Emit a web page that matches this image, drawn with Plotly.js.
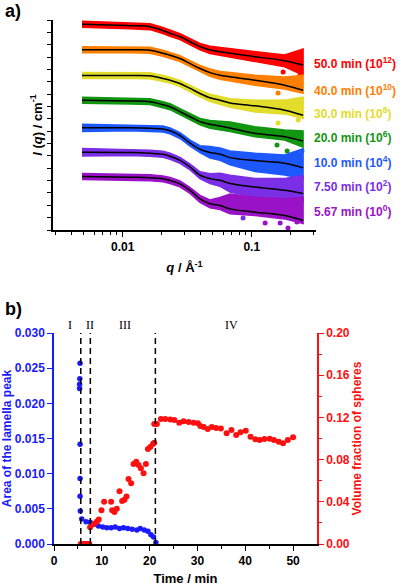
<!DOCTYPE html>
<html>
<head>
<meta charset="utf-8">
<script src="https://cdn.plot.ly/plotly-3.0.1.min.js"></script>
<style>
html, body { margin: 0; padding: 0; background: #fff; }
#chart { width: 400px; height: 586px; }
</style>
</head>
<body>
<div id="chart"></div>
<script>
// ---------- (a) SAXS profiles I(q), stacked by 10^2 per time point ----------
const q = [0.00484, 0.0114, 0.0163, 0.0205, 0.0233, 0.0278, 0.0333, 0.0397, 0.0475, 0.0568, 0.0679, 0.106, 0.18, 0.25];
const timeLabels = ['50.0', '40.0', '30.0', '20.0', '10.0', '7.50', '5.67'];
const offsetExp = [12, 10, 8, 6, 4, 2, 0];
const colors = ['#ff0000', '#ff8000', '#e2dc2a', '#129612', '#1d58ff', '#7a2ee6', '#9a12c6'];

// log10 of the fitted intensity (before stacking offset)
const fitLog50 = [0.65, 0.54, 0.46, 0.15, -0.08, -0.35, -0.76, -1.16, -1.43, -1.57, -1.70, -1.97, -2.30, -2.65];
const fitLog40 = [0.59, 0.59, 0.55, 0.31, 0.15, -0.12, -0.53, -0.93, -1.26, -1.48, -1.60, -1.88, -2.28, -2.69];
const fitLog30 = [0.51, 0.51, 0.48, 0.27, 0.13, -0.14, -0.54, -0.95, -1.30, -1.49, -1.72, -1.95, -2.30, -2.71];
const fitLog20 = [0.50, 0.44, 0.39, 0.14, -0.02, -0.42, -0.83, -1.23, -1.44, -1.58, -1.74, -2.17, -2.45, -2.80];
const fitLog10 = [0.27, 0.27, 0.23, 0.17, 0.03, -0.35, -0.97, -1.46, -1.73, -1.86, -2.14, -2.38, -2.59, -2.97];
const fitLog750 = [0.29, 0.27, 0.21, 0.13, -0.03, -0.36, -0.90, -1.57, -1.84, -1.98, -2.24, -2.52, -2.79, -3.05];
const fitLog567 = [0.33, 0.27, 0.23, 0.14, 0.01, -0.26, -0.80, -1.48, -1.88, -2.02, -2.29, -2.56, -2.83, -3.23];

// scatter of the measured points above / below the fit (decades)
const spreadUp50 = [0.24, 0.24, 0.24, 0.24, 0.24, 0.24, 0.24, 0.26, 0.30, 0.34, 0.40, 0.40, 0.46, 1.30];
const spreadDn50 = [0.24, 0.24, 0.24, 0.24, 0.24, 0.24, 0.24, 0.26, 0.28, 0.28, 0.30, 0.40, 0.49, 0.81];
const spreadUp40 = [0.24, 0.24, 0.24, 0.24, 0.24, 0.24, 0.24, 0.26, 0.30, 0.32, 0.35, 0.40, 0.67, 1.21];
const spreadDn40 = [0.24, 0.24, 0.24, 0.24, 0.24, 0.24, 0.24, 0.26, 0.30, 0.32, 0.32, 0.40, 0.30, 0.24];
const spreadUp30 = [0.24, 0.24, 0.24, 0.24, 0.24, 0.24, 0.24, 0.26, 0.30, 0.32, 0.34, 0.46, 0.81, 1.46];
const spreadDn30 = [0.24, 0.24, 0.24, 0.24, 0.24, 0.24, 0.24, 0.26, 0.30, 0.32, 0.34, 0.49, 0.30, 0.27];
const spreadUp20 = [0.24, 0.24, 0.24, 0.24, 0.24, 0.24, 0.24, 0.26, 0.30, 0.40, 0.49, 0.53, 0.54, 0.81];
const spreadDn20 = [0.24, 0.24, 0.24, 0.24, 0.24, 0.24, 0.24, 0.26, 0.32, 0.30, 0.28, 0.28, 0.27, 0.49];
const spreadUp10 = [0.30, 0.24, 0.24, 0.24, 0.24, 0.24, 0.24, 0.28, 0.49, 0.49, 0.54, 0.60, 0.67, 1.54];
const spreadDn10 = [0.30, 0.24, 0.24, 0.24, 0.24, 0.24, 0.24, 0.28, 0.45, 0.49, 0.59, 0.89, 0.95, 0.89];
const spreadUp750 = [0.30, 0.24, 0.24, 0.24, 0.24, 0.24, 0.24, 0.28, 0.40, 0.57, 0.67, 0.68, 0.95, 1.46];
const spreadDn750 = [0.30, 0.24, 0.24, 0.24, 0.24, 0.24, 0.24, 0.28, 0.40, 0.49, 0.68, 0.81, 0.81, 0.68];
const spreadUp567 = [0.24, 0.24, 0.24, 0.24, 0.24, 0.24, 0.24, 0.28, 0.32, 0.65, 1.21, 1.21, 1.35, 1.86];
const spreadDn567 = [0.24, 0.24, 0.24, 0.24, 0.24, 0.24, 0.24, 0.28, 0.32, 0.32, 0.40, 0.27, 0.27, 0.24];

// isolated low points at high q: q and log10 I (before offset)
const strayQ50 = [0.175, 0.237];          const strayLog50 = [-3.21, -3.45];
const strayQ40 = [0.16, 0.172, 0.205];    const strayLog40 = [-2.91, -3.64, -3.64];
const strayQ30 = [0.16, 0.229];           const strayLog30 = [-3.34, -3.10];
const strayQ20 = [0.157, 0.188, 0.245];   const strayLog20 = [-3.12, -3.61, -3.61];
const strayQ10 = [0.146, 0.224];          const strayLog10 = [-4.36, -4.20];
const strayQ750 = [0.078, 0.0857, 0.152, 0.191]; const strayLog750 = [-3.33, -5.03, -4.39, -4.79];
const strayQ567 = [0.127, 0.166, 0.191, 0.224];  const strayLog567 = [-3.44, -3.44, -3.84, -3.36];

const fits = [fitLog50, fitLog40, fitLog30, fitLog20, fitLog10, fitLog750, fitLog567];
const ups = [spreadUp50, spreadUp40, spreadUp30, spreadUp20, spreadUp10, spreadUp750, spreadUp567];
const dns = [spreadDn50, spreadDn40, spreadDn30, spreadDn20, spreadDn10, spreadDn750, spreadDn567];
const strayQ = [strayQ50, strayQ40, strayQ30, strayQ20, strayQ10, strayQ750, strayQ567];
const strayLog = [strayLog50, strayLog40, strayLog30, strayLog20, strayLog10, strayLog750, strayLog567];

// ---------- (b) kinetics ----------
const lamT = [5.45, 5.40, 5.35, 5.35, 5.45, 5.45, 5.45, 5.5, 5.8, 6.71, 7.55, 8.46, 9.29, 10.2, 11.04, 11.95, 12.79, 13.7, 14.53, 15.44, 16.35, 17.33, 18.03, 18.87, 19.64, 20.27, 20.82, 21.31];
const lamArea = [0.0257, 0.0235, 0.0227, 0.0221, 0.0142, 0.0093, 0.0068, 0.0047, 0.00355, 0.00317, 0.0031, 0.00284, 0.00256, 0.0024, 0.0023, 0.0023, 0.0024, 0.0022, 0.0023, 0.0022, 0.0021, 0.0020, 0.0022, 0.0020, 0.0018, 0.0013, 0.0010, 0.0002];

const sphT = [5.6, 5.9, 6.2, 6.5, 6.8, 7.1, 7.4,
  7.55, 8.38, 8.94, 9.36, 9.92, 10.48, 11.95, 12.16, 12.65, 13.13, 13.7, 14.25, 14.74, 15.16, 15.58, 16.14, 16.63, 17.19, 17.68, 18.17, 18.73, 19.22, 19.64, 20.13, 20.69, 20.96,
  20.96, 21.52, 22.36, 23.27, 24.32, 25.16, 26.2, 27.1, 28.16, 29.2, 30.1,
  30.6, 31.3, 32.15, 33.0, 33.9, 34.9, 36.1, 37.1, 38.1, 39.0, 40.1, 41.1, 42.1, 43.0, 44.0, 45.1, 46.0, 47.0, 47.9, 48.9, 50.0];
const sphFrac = [0, 0, 0, 0, 0, 0, 0,
  0.0158, 0.019, 0.021, 0.0233, 0.032, 0.040, 0.040, 0.032, 0.0303, 0.0335, 0.050, 0.0407, 0.042, 0.045, 0.0616, 0.0575, 0.0758, 0.078, 0.0748, 0.0717, 0.067, 0.0758, 0.090, 0.092, 0.0948, 0.096,
  0.1137, 0.1137, 0.1185, 0.1185, 0.118, 0.1175, 0.115, 0.1163, 0.1157, 0.115, 0.1144,
  0.1118, 0.111, 0.109, 0.111, 0.110, 0.1095, 0.105, 0.108, 0.1033, 0.106, 0.1074, 0.1017, 0.0992, 0.0985, 0.0995, 0.0998, 0.0985, 0.097, 0.0954, 0.0985, 0.1011];

const stageBounds = [5.6, 7.6, 21.2];
const stageNames = ['I', 'II', 'III', 'IV'];
const stageLabelT = [3.4, 7.6, 14.8, 37.1];

// ---------- build ----------
const SANS = 'Liberation Sans, Arial, sans-serif';
const BLUE = '#1a1aff';
const RED = '#ff0f0f';
const pow10 = v => Math.pow(10, v);
const traces = [];

fits.forEach((fit, k) => {
  const off = offsetExp[k];
  const upper = fit.map((v, i) => pow10(v + ups[k][i] + off));
  const lower = fit.map((v, i) => pow10(v - dns[k][i] + off));
  traces.push({
    x: q.concat(q.slice().reverse()),
    y: upper.concat(lower.slice().reverse()),
    xaxis: 'x', yaxis: 'y',
    mode: 'lines', fill: 'toself', fillcolor: colors[k],
    line: { color: colors[k], width: 1.5, shape: 'linear' },
    hoverinfo: 'skip'
  });
  traces.push({
    x: strayQ[k], y: strayLog[k].map(v => pow10(v + off)),
    xaxis: 'x', yaxis: 'y', mode: 'markers',
    marker: { color: colors[k], size: 5 }
  });
});
fits.forEach((fit, k) => {
  traces.push({
    x: q, y: fit.map(v => pow10(v + offsetExp[k])),
    xaxis: 'x', yaxis: 'y', mode: 'lines',
    line: { color: '#000', width: 1.5, shape: 'spline', smoothing: 1 }
  });
});

traces.push({
  x: sphT, y: sphFrac, xaxis: 'x2', yaxis: 'y4', mode: 'markers',
  marker: { color: RED, size: 6 }
});
traces.push({
  x: lamT, y: lamArea, xaxis: 'x2', yaxis: 'y3', mode: 'markers',
  marker: { color: BLUE, size: 5.5 }
});

const px = v => v / 400;
const py = v => 1 - v / 586;

const yTicksA = [];
for (let e = -4; e <= 13; e++) yTicksA.push(pow10(e));
const xMinorA = [0.003, 0.004, 0.005, 0.006, 0.007, 0.008, 0.009, 0.02, 0.03, 0.04, 0.05, 0.06, 0.07, 0.08, 0.09, 0.2, 0.3];

const annotations = [];
const ann = (o) => annotations.push(Object.assign({ showarrow: false, xref: 'paper', yref: 'paper' }, o));

ann({ x: px(3), y: py(11), xanchor: 'left', yanchor: 'middle', text: 'a)', font: { family: SANS, size: 18, color: '#000', weight: 'bold' } });
ann({ x: px(3), y: py(309), xanchor: 'left', yanchor: 'middle', text: 'b)', font: { family: SANS, size: 18, color: '#000', weight: 'bold' } });

const labelY = [63, 90, 113, 137, 162, 186, 211];
timeLabels.forEach((t, k) => {
  ann({ x: px(312), y: py(labelY[k]), xanchor: 'left', yanchor: 'middle',
    text: t + ' min (10<sup>' + offsetExp[k] + '</sup>)',
    font: { family: SANS, size: 12, color: colors[k], weight: 'bold' } });
});

stageNames.forEach((s, i) => {
  annotations.push({ showarrow: false, xref: 'x2', yref: 'paper', x: stageLabelT[i], y: py(325),
    xanchor: 'center', yanchor: 'middle', text: s,
    font: { family: 'Liberation Serif, Times New Roman, serif', size: 12, color: '#000' } });
});

const shapes = stageBounds.map(t => ({
  type: 'line', xref: 'x2', yref: 'y3', x0: t, x1: t, y0: 0, y1: 0.03,
  line: { color: '#000', width: 1.5, dash: '6px,4px' }
}));

const tickFont = (c) => ({ family: SANS, size: 12, color: c, weight: 'bold' });
const titleFont = (c, s) => ({ family: SANS, size: s, color: c, weight: 'bold' });

const layout = {
  width: 400, height: 586,
  margin: { l: 0, r: 0, t: 0, b: 0 },
  paper_bgcolor: '#fff', plot_bgcolor: 'rgba(0,0,0,0)',
  font: { family: SANS, size: 12, color: '#000' },
  showlegend: false,
  xaxis: {
    type: 'log', domain: [px(53), px(316)], anchor: 'y', range: [-2.54, -0.502],
    showgrid: false, zeroline: false, showline: true, linecolor: '#000', linewidth: 1.5,
    tickmode: 'array', tickvals: [0.01, 0.1], ticktext: ['0.01', '0.1'],
    ticks: 'outside', ticklen: 5, tickwidth: 1.2, tickcolor: '#000',
    tickfont: tickFont('#000'),
    minor: { tickmode: 'array', tickvals: xMinorA, ticks: 'outside', ticklen: 3, tickwidth: 1, tickcolor: '#000', showgrid: false },
    title: { text: '<i>q</i> / Å<sup>-1</sup>', font: titleFont('#000', 13), standoff: 10 }
  },
  yaxis: {
    type: 'log', domain: [py(230), py(20)], anchor: 'x', range: [-4, 13],
    showgrid: false, zeroline: false, showline: true, linecolor: '#000', linewidth: 1.5,
    tickmode: 'array', tickvals: [], showticklabels: false, ticks: '',
    minor: { tickmode: 'array', tickvals: yTicksA, ticks: 'outside', ticklen: 4, tickwidth: 1.2, tickcolor: '#000', showgrid: false },
    title: { text: '<i>I</i> (<i>q</i>) / cm<sup>-1</sup>', font: titleFont('#000', 13), standoff: 6 }
  },
  xaxis2: {
    domain: [px(54), px(317)], anchor: 'y3', range: [0, 55],
    showgrid: false, zeroline: false, showline: true, linecolor: '#000', linewidth: 1.5,
    tickmode: 'array', tickvals: [0, 10, 20, 30, 40, 50],
    ticks: 'outside', ticklen: 5, tickwidth: 1.2, tickcolor: '#000',
    tickfont: tickFont('#000'),
    minor: { tickmode: 'array', tickvals: [5, 15, 25, 35, 45], ticks: 'outside', ticklen: 3, tickwidth: 1, tickcolor: '#000', showgrid: false },
    title: { text: 'Time / min', font: titleFont('#000', 13), standoff: 7 }
  },
  yaxis3: {
    domain: [py(544), py(333)], anchor: 'x2', range: [0, 0.03],
    showgrid: false, zeroline: false, showline: true, linecolor: BLUE, linewidth: 1.5,
    tickmode: 'array', tickvals: [0, 0.005, 0.01, 0.015, 0.02, 0.025, 0.03], tickformat: '.3f',
    ticks: 'outside', ticklen: 5, tickwidth: 1.2, tickcolor: BLUE,
    tickfont: tickFont(BLUE),
    title: { text: 'Area of the lamella peak', font: titleFont(BLUE, 12), standoff: 1 }
  },
  yaxis4: {
    overlaying: 'y3', side: 'right', anchor: 'x2', range: [0, 0.2],
    showgrid: false, zeroline: false, showline: true, linecolor: RED, linewidth: 1.5,
    tickmode: 'array', tickvals: [0, 0.04, 0.08, 0.12, 0.16, 0.2], tickformat: '.2f',
    ticks: 'outside', ticklen: 5, tickwidth: 1.2, tickcolor: RED,
    tickfont: tickFont(RED),
    minor: { tickmode: 'array', tickvals: [0.02, 0.06, 0.1, 0.14, 0.18], ticks: 'outside', ticklen: 3, tickwidth: 1, tickcolor: RED, showgrid: false },
    title: { text: 'Volume fraction of spheres', font: titleFont(RED, 12), standoff: 4 }
  },
  annotations: annotations,
  shapes: shapes
};

Plotly.newPlot('chart', traces, layout, { displayModeBar: false });
</script>
</body>
</html>
